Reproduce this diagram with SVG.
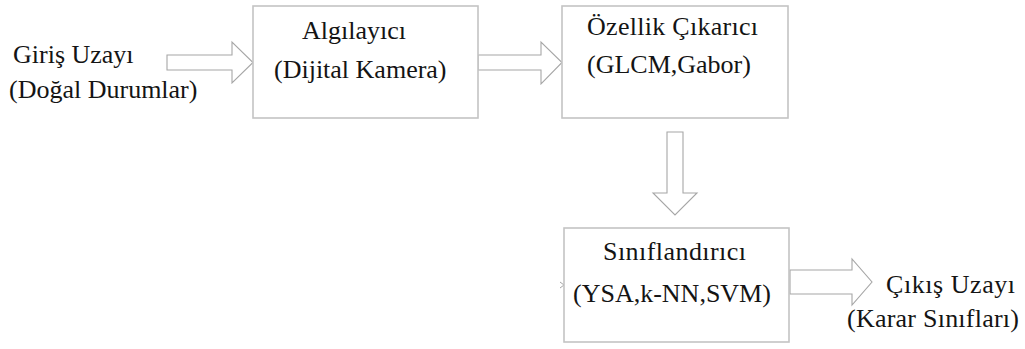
<svg xmlns="http://www.w3.org/2000/svg" width="1025" height="349" viewBox="0 0 1025 349">
  <style>
    .box { fill: #ffffff; stroke: #c4c4c4; stroke-width: 1.6; }
    .arrow { fill: #ffffff; stroke: #a6a6a6; stroke-width: 1.1; stroke-linejoin: miter; }
  </style>
  <rect width="1025" height="349" fill="#ffffff"/>

  <!-- block arrows between stages -->
  <g id="connectors">
    <path class="arrow" d="M167,55 H232 V42 L253,62.5 L232,83 V70 H167 Z"/>
    <path class="arrow" d="M478,55 H541 V42 L562,62.5 L541,84 V70 H478 Z"/>
    <path class="arrow" d="M667,132 V193 H653 L675,215 L697,193 H683 V132 Z"/>
    <path class="arrow" d="M790,270 H852 V259 L872,282 L852,305 V294 H790 Z"/>
    <polyline points="560,282 564,285 560,288" fill="none" stroke="#a6a6a6" stroke-width="1"/>
  </g>

  <g id="input">
    <text x="13" y="63" font-family="Liberation Serif" font-size="26" fill="#141414">Giriş Uzayı</text>
    <text x="9" y="98" font-family="Liberation Serif" font-size="26" fill="#141414">(Doğal Durumlar)</text>
  </g>

  <g id="sensor">
    <rect class="box" x="253" y="6" width="225" height="112"/>
    <text x="302" y="39" font-family="Liberation Serif" font-size="26" fill="#141414">Algılayıcı</text>
    <text x="274" y="78" font-family="Liberation Serif" font-size="26" fill="#141414">(Dijital Kamera)</text>
  </g>

  <g id="feature-extractor">
    <rect class="box" x="562" y="6" width="226" height="112"/>
    <text x="587" y="35" font-family="Liberation Serif" font-size="26" fill="#141414" textLength="171" lengthAdjust="spacing">Özellik Çıkarıcı</text>
    <text x="587" y="73" font-family="Liberation Serif" font-size="26" fill="#141414">(GLCM,Gabor)</text>
  </g>

  <g id="classifier">
    <rect class="box" x="564" y="228" width="225" height="114"/>
    <text x="603" y="260" font-family="Liberation Serif" font-size="26" fill="#141414" textLength="143" lengthAdjust="spacing">Sınıflandırıcı</text>
    <text x="573" y="302" font-family="Liberation Serif" font-size="26" fill="#141414">(YSA,k-NN,SVM)</text>
  </g>

  <g id="output">
    <text x="886" y="293" font-family="Liberation Serif" font-size="26" fill="#141414" textLength="129" lengthAdjust="spacing">Çıkış Uzayı</text>
    <text x="847" y="327" font-family="Liberation Serif" font-size="26" fill="#141414" textLength="172" lengthAdjust="spacing">(Karar Sınıfları)</text>
  </g>
</svg>
